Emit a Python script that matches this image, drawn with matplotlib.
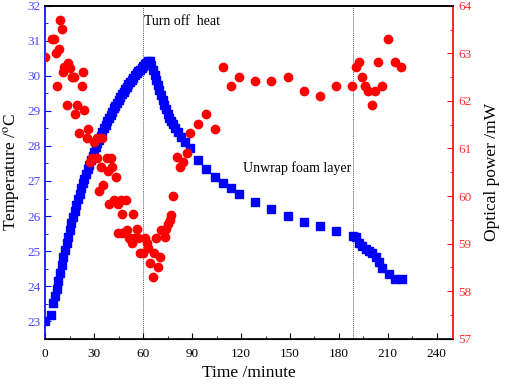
import matplotlib
matplotlib.use("Agg")
import matplotlib.pyplot as plt
from matplotlib.ticker import MultipleLocator

plt.rcParams["font.family"] = ["Liberation Serif", "DejaVu Serif"]
plt.rcParams["mathtext.fontset"] = "stix"

# temperature (left axis), minutes
temp_time = [0, 3.5, 5, 6, 7, 8, 9, 10, 11, 12, 13, 14, 15, 16, 17, 18, 19, 20,
             21, 22, 23, 24, 25, 26, 27, 28, 29, 30, 31, 32, 33, 34, 35, 36, 37,
             38, 39, 40, 41, 42, 43, 44, 45, 46, 47, 48, 49, 50, 51, 52, 53, 54,
             55, 56, 57, 58, 59, 60, 61, 62, 63, 64, 65, 66, 67, 68, 69, 70, 71,
             72, 73, 74, 75, 76, 77, 78, 79.5, 81.5, 83.5, 85.5, 88.5, 93.6, 98.7,
             103.8, 108.9, 113.6, 118.6, 128.6, 138.6, 148.6, 158.5, 168.5, 178.5,
             188.8, 190.3, 192.3, 194.3, 196.4, 198.4, 200.4, 202.5, 204.5, 206.6,
             210.6, 214.3, 218.4]
temp_vals = [23.00, 23.17, 23.52, 23.72, 23.93, 24.15, 24.38, 24.60, 24.82, 25.03,
             25.22, 25.41, 25.60, 25.79, 25.97, 26.14, 26.31, 26.48, 26.64, 26.79,
             26.93, 27.07, 27.21, 27.34, 27.47, 27.60, 27.72, 27.84, 27.96, 28.07,
             28.18, 28.29, 28.40, 28.50, 28.60, 28.70, 28.80, 28.89, 28.98, 29.07,
             29.15, 29.23, 29.31, 29.39, 29.47, 29.55, 29.62, 29.69, 29.76, 29.83,
             29.89, 29.95, 30.01, 30.07, 30.13, 30.18, 30.23, 30.28, 30.33, 30.38,
             30.42, 30.43, 30.32, 30.18, 30.03, 29.89, 29.74, 29.60, 29.46, 29.32,
             29.18, 29.05, 28.92, 28.80, 28.70, 28.62, 28.52, 28.40, 28.25, 28.10,
             27.93, 27.59, 27.34, 27.12, 26.95, 26.80, 26.64, 26.39, 26.20, 26.00,
             25.83, 25.71, 25.58, 25.43, 25.39, 25.24, 25.14, 25.05, 25.00, 24.95,
             24.82, 24.69, 24.53, 24.34, 24.19, 24.19]

# optical power (right axis)
power_time = [0, 4.1, 5.5, 6.5, 7.1, 8.1, 9.2, 10.2, 10.8, 11.6, 13.2, 14.2, 15.3,
              16.3, 17.3, 18.3, 19.3, 20.9, 22.4, 23.0, 23.8, 25.4, 26.0, 27.5,
              28.5, 30.1, 31.5, 31.9, 33.0, 34.0, 34.6, 35.6, 37.6, 38.7, 39.1,
              40.1, 40.7, 42.3, 43.3, 44.8, 44.8, 46.4, 46.8, 47.2, 49.3, 49.9,
              51.5, 52.9, 53.9, 54.5, 56.0, 57.0, 58.0, 60.0, 61.1, 62.1, 62.7,
              64.1, 66.1, 66.8, 67.8, 68.8, 70.2, 71.2, 73.3, 73.7, 75.3, 76.3,
              77.3, 78.3, 80.8, 82.8, 84.4, 86.8, 88.5, 93.6, 98.7, 103.8, 108.7,
              113.6, 118.6, 128.6, 138.6, 148.6, 158.3, 168.3, 178.5, 188.2, 190.3,
              192.3, 194.3, 196.2, 198.0, 200.2, 202.3, 204.1, 206.4, 210.0, 214.1,
              218.1]
power_vals = [62.92, 63.31, 63.31, 63.01, 62.31, 63.10, 63.71, 63.51, 62.61, 62.72,
              61.91, 62.79, 62.70, 62.51, 62.51, 61.72, 61.91, 61.32, 62.31, 62.61,
              61.81, 61.21, 61.41, 60.72, 60.79, 61.14, 61.21, 60.80, 60.11, 60.60,
              61.21, 60.23, 60.80, 60.53, 59.83, 60.80, 60.60, 59.92, 60.41, 59.83,
              59.22, 59.92, 59.22, 59.62, 59.92, 59.28, 59.11, 59.01, 59.62, 59.11,
              59.31, 59.11, 58.81, 58.81, 59.11, 59.01, 58.91, 58.60, 58.30, 58.81,
              59.11, 58.50, 58.71, 59.28, 59.14, 59.31, 59.41, 59.50, 59.60, 60.00,
              60.81, 60.62, 60.71, 60.91, 61.32, 61.51, 61.72, 61.41, 62.72, 62.31,
              62.51, 62.41, 62.41, 62.51, 62.21, 62.11, 62.31, 62.31, 62.71, 62.81,
              62.51, 62.31, 62.21, 61.91, 62.21, 62.81, 62.31, 63.31, 62.81, 62.71]

events = [60, 188.8]

blue = "#0000ff"
red = "#ff0000"

fig = plt.figure(figsize=(5.05, 3.84), dpi=100)
ax = fig.add_axes([0.0897, 0.118, 0.8075, 0.867])
ax2 = ax.twinx()

for x in events:
    ax.axvline(x, color="#555555", lw=0.7, ls=(0, (1, 1)), zorder=1)

ax.plot(temp_time, temp_vals, ls="none", marker="s", ms=5.2, color=blue,
        mec=blue, zorder=3)
ax2.plot(power_time, power_vals, ls="none", marker="o", ms=6, color=red,
         mec=red, zorder=3)

ax.set_xlim(0, 250)
ax.set_ylim(22.5, 32)
ax2.set_ylim(57, 64)

ax.xaxis.set_major_locator(MultipleLocator(30))
ax.xaxis.set_minor_locator(MultipleLocator(15))
ax.yaxis.set_major_locator(MultipleLocator(1))
ax.yaxis.set_minor_locator(MultipleLocator(0.5))
ax2.yaxis.set_major_locator(MultipleLocator(1))
ax2.yaxis.set_minor_locator(MultipleLocator(0.5))

ax.tick_params(axis="both", which="both", direction="in", labelsize=9.5)
ax.tick_params(axis="both", which="major", length=4.5)
ax.tick_params(axis="both", which="minor", length=2.5)
ax.tick_params(axis="x", which="both", top=False, pad=7)
ax.tick_params(axis="y", which="both", right=False, colors=blue,
               labelcolor="#4a4aff")
ax2.tick_params(axis="y", which="both", direction="in", colors=red,
                labelcolor="#ff3030", labelsize=9.5)
ax2.tick_params(axis="y", which="major", length=4.5)
ax2.tick_params(axis="y", which="minor", length=2.5)

ax.spines["left"].set_color(blue)
ax.spines["right"].set_visible(False)
ax2.spines["left"].set_visible(False)
ax2.spines["right"].set_color(red)
for sp in ("left", "bottom", "top"):
    ax.spines[sp].set_linewidth(1.2)
ax2.spines["right"].set_linewidth(1.2)
ax2.spines["top"].set_linewidth(1.2)

ax.set_xlabel("Time /minute", fontsize=12.5, labelpad=3)
ax.set_ylabel("Temperature /$^{\\rm o}$C", fontsize=12.5, labelpad=4)
ax2.set_ylabel("Optical power /mW", fontsize=12.5, labelpad=9)

ax.text(60.6, 31.55, "Turn off  heat", fontsize=10, va="center", ha="left")
ax.text(121, 27.37, "Unwrap foam layer", fontsize=10, va="center", ha="left")

fig.savefig("out.png", dpi=100)
